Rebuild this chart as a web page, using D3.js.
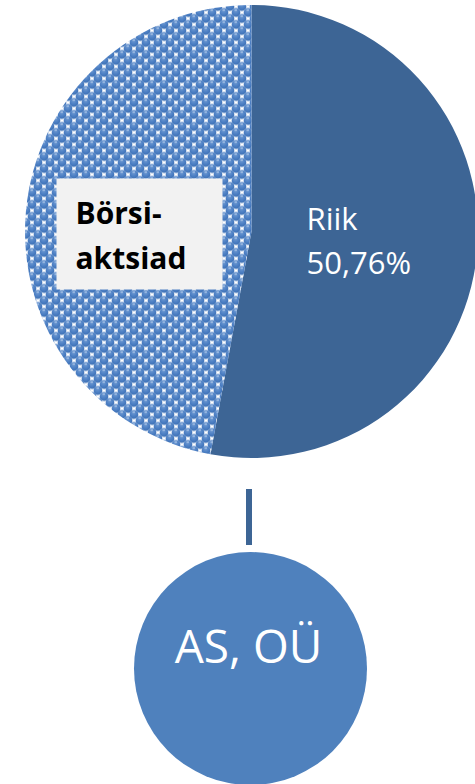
<!DOCTYPE html>
<html>
<head>
<meta charset="utf-8">
<script src="https://cdn.jsdelivr.net/npm/d3@7"></script>
<style>
  body { margin: 0; background: #fff; }
  svg { display: block; }
</style>
</head>
<body>
<div id="chart"></div>
<script>
// slices as drawn (clockwise from 12 o'clock)
const categories = ['Riik', 'Börsiaktsiad'];
const shares = [52.9, 47.1];
const riikLabel = ['Riik', '50,76%'];
const boxLabel = ['Börsi-', 'aktsiad'];
const childLabel = 'AS, OÜ';

const W = 475, H = 784;
const cx = 251.5, cy = 231.5, r = 226.5;

const svg = d3.select('#chart').append('svg')
  .attr('width', W).attr('height', H);

const defs = svg.append('defs');

// sphere pattern like the Excel fill
const grad = defs.append('radialGradient')
  .attr('id', 'ball').attr('cx', '45%').attr('cy', '30%').attr('r', '70%');
grad.append('stop').attr('offset', '0%').attr('stop-color', '#6c98d2');
grad.append('stop').attr('offset', '60%').attr('stop-color', '#4a7dc2');
grad.append('stop').attr('offset', '100%').attr('stop-color', '#3c6fb3');

const P = 12;
const pat = defs.append('pattern')
  .attr('id', 'dots').attr('patternUnits', 'userSpaceOnUse')
  .attr('x', cx).attr('y', 0)
  .attr('width', P).attr('height', P);
pat.append('rect').attr('width', P).attr('height', P).attr('fill', '#fff');
const q = P / 4;
[[q, q], [3 * q, 3 * q], [-q, 3 * q], [P + q, q], [q, P + q], [3 * q, -q], [-q, -q], [P + q, P + q]].forEach(([x, y]) => {
  pat.append('circle').attr('cx', x).attr('cy', y).attr('r', 4.4).attr('fill', 'url(#ball)');
  pat.append('rect').attr('x', x - 1.5).attr('y', y - 2.8).attr('width', 2.5).attr('height', 0.9)
    .attr('fill', '#c9daf0');
});

const pie = d3.pie().sort(null).value(d => d.v);
const arc = d3.arc().innerRadius(0).outerRadius(r);
const arcs = pie(categories.map((c, i) => ({ c, v: shares[i] })));

const fills = ['#3d6595', 'url(#dots)'];

const g = svg.append('g').attr('transform', `translate(${cx},${cy})`);
g.selectAll('path')
  .data(arcs)
  .join('path')
  .attr('d', arc)
  .attr('fill', (d, i) => fills[i]);

// Riik label
g.append('text')
  .attr('font-family', 'Open Sans, sans-serif')
  .attr('font-size', 31)
  .attr('fill', '#fff')
  .selectAll('tspan')
  .data(riikLabel)
  .join('tspan')
  .attr('x', 55)
  .attr('y', (d, i) => -2 + i * 44)
  .text(d => d);

// Börsiaktsiad label box
g.append('rect')
  .attr('x', -195).attr('y', -53)
  .attr('width', 166).attr('height', 111)
  .attr('fill', '#f2f2f2');

g.append('text')
  .attr('font-family', 'Open Sans, sans-serif')
  .attr('font-size', 30)
  .attr('font-weight', 'bold')
  .attr('fill', '#000')
  .selectAll('tspan')
  .data(boxLabel)
  .join('tspan')
  .attr('x', -176)
  .attr('y', (d, i) => -8 + i * 45)
  .text(d => d);

// connector and child node
svg.append('rect')
  .attr('x', 246).attr('y', 489)
  .attr('width', 6).attr('height', 56)
  .attr('fill', '#3d6595');

svg.append('circle')
  .attr('cx', 250.5).attr('cy', 668.5).attr('r', 116.5)
  .attr('fill', '#4f81bd');

svg.append('text')
  .attr('x', 248.5).attr('y', 663)
  .attr('text-anchor', 'middle')
  .attr('font-family', 'Open Sans, sans-serif')
  .attr('font-size', 46)
  .attr('fill', '#fff')
  .text(childLabel);
</script>
</body>
</html>
